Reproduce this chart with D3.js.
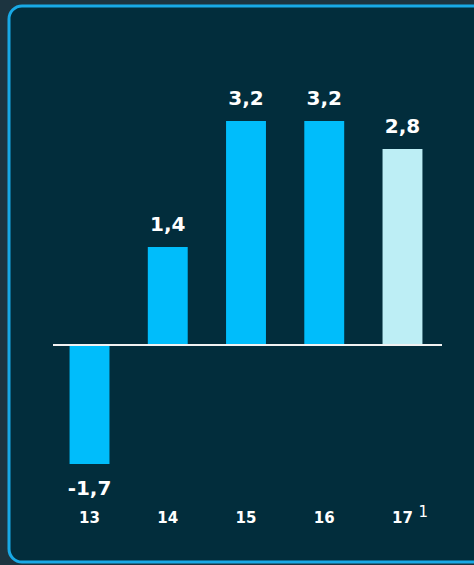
<!DOCTYPE html>
<html><head><meta charset="utf-8">
<script src="https://cdn.jsdelivr.net/npm/d3@7/dist/d3.min.js"></script>
<style>html,body{margin:0;padding:0;background:#1c3440;}svg{display:block;}</style>
</head><body>
<svg id="c" width="474" height="565"></svg>
<script>
const categories = ["13","14","15","16","17"];
const values = [-1.7, 1.4, 3.2, 3.2, 2.8];
const valueLabels = ["-1,7","1,4","3,2","3,2","2,8"];
const footnotes = ["","","","","1"];
const forecast = [false,false,false,false,true];

const FONT = "'DejaVu Sans', sans-serif";
const svg = d3.select("#c");
svg.append("rect").attr("x",0).attr("y",0).attr("width",474).attr("height",565).attr("fill","#1c3440");
svg.append("rect").attr("x",9).attr("y",6).attr("width",480).attr("height",556).attr("rx",13)
  .attr("fill","#022d3c").attr("stroke","#18a9e6").attr("stroke-width",3);

const x = d3.scaleBand().domain(categories).range([50,442]).paddingInner(0.49).paddingOuter(0.25);
const y = d3.scaleLinear().domain([-1.7,3.2]).range([464,121]);

svg.selectAll("rect.bar").data(values).enter().append("rect").attr("class","bar")
  .attr("x",(d,i)=>x(categories[i]))
  .attr("width",x.bandwidth())
  .attr("y",d=>y(Math.max(0,d)))
  .attr("height",d=>Math.abs(y(d)-y(0)))
  .attr("fill",(d,i)=>forecast[i]?"#bdeef5":"#00bdfb");

svg.append("line").attr("x1",53).attr("x2",442).attr("y1",y(0)).attr("y2",y(0))
  .attr("stroke","#f2f2f2").attr("stroke-width",2);

svg.selectAll("text.val").data(values).enter().append("text").attr("class","val")
  .attr("x",(d,i)=>x(categories[i])+x.bandwidth()/2)
  .attr("y",d=>d>=0?y(d)-16:y(d)+31)
  .attr("text-anchor","middle").attr("fill","#ffffff")
  .attr("font-family",FONT).attr("font-weight","bold").attr("font-size",20)
  .text((d,i)=>valueLabels[i]);

const xa = svg.append("g");
xa.selectAll("text.cat").data(categories).enter().append("text").attr("class","cat")
  .attr("x",d=>x(d)+x.bandwidth()/2).attr("y",523)
  .attr("text-anchor","middle").attr("fill","#ffffff")
  .attr("font-family",FONT).attr("font-weight","bold").attr("font-size",15)
  .text(d=>d);
xa.selectAll("text.fn").data(categories).enter().append("text").attr("class","fn")
  .attr("x",d=>x(d)+x.bandwidth()/2+16).attr("y",517)
  .attr("fill","#ffffff")
  .attr("font-family",FONT).attr("font-size",15)
  .text((d,i)=>footnotes[i]);
</script>
</body></html>
